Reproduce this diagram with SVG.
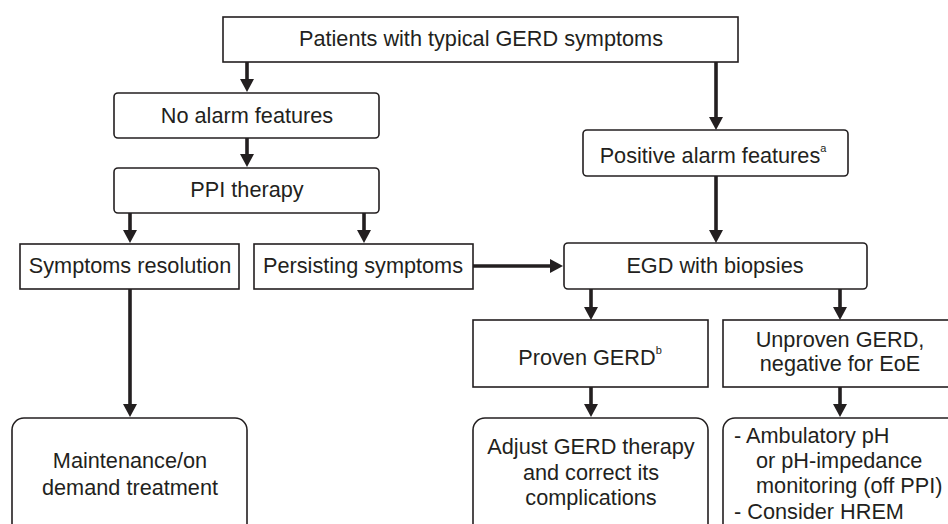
<svg xmlns="http://www.w3.org/2000/svg" width="948" height="524" viewBox="0 0 948 524">
<defs>
<style>
.box{fill:#fff;stroke:#231f20;stroke-width:1.6}
.t{font-family:"Liberation Sans",Arial,sans-serif;font-size:21.7px;fill:#231f20;text-anchor:middle}
.l{text-anchor:start}
.sup{font-size:11px}
.c{stroke:#231f20;stroke-width:3.6;fill:none;marker-end:url(#ah)}
</style>
<marker id="ah" viewBox="0 0 13 14" refX="5" refY="7" markerWidth="13" markerHeight="14" markerUnits="userSpaceOnUse" orient="auto">
<path d="M0,0 L13,7 L0,14 z" fill="#231f20"/>
</marker>
</defs>
<rect width="948" height="524" fill="#fff"/>
<g id="connectors">
<line class="c" x1="247" y1="62" x2="247" y2="84"/>
<line class="c" x1="247" y1="138" x2="247" y2="159"/>
<line class="c" x1="130" y1="213" x2="130" y2="235"/>
<line class="c" x1="364" y1="213" x2="364" y2="235"/>
<line class="c" x1="130" y1="289" x2="130" y2="409"/>
<line class="c" x1="473" y1="266" x2="555" y2="266"/>
<line class="c" x1="716" y1="62" x2="716" y2="122"/>
<line class="c" x1="716" y1="176" x2="716" y2="235"/>
<line class="c" x1="591" y1="289" x2="591" y2="312"/>
<line class="c" x1="840" y1="289" x2="840" y2="312"/>
<line class="c" x1="591" y1="387" x2="591" y2="409"/>
<line class="c" x1="840" y1="387" x2="840" y2="409"/>
</g>
<g id="top">
<rect class="box" x="223" y="17" width="515" height="45"/>
<text class="t" x="481" y="46">Patients with typical GERD symptoms</text>
</g>
<g id="noalarm">
<rect class="box" x="114" y="93" width="265" height="45" rx="4"/>
<text class="t" x="247" y="123">No alarm features</text>
</g>
<g id="ppi">
<rect class="box" x="114" y="168" width="265" height="45" rx="4"/>
<text class="t" x="247" y="197">PPI therapy</text>
</g>
<g id="resolution">
<rect class="box" x="20" y="244" width="219" height="45"/>
<text class="t" x="130" y="273">Symptoms resolution</text>
</g>
<g id="persisting">
<rect class="box" x="254" y="244" width="219" height="45"/>
<text class="t" x="363" y="273">Persisting symptoms</text>
</g>
<g id="positive">
<rect class="box" x="583" y="130" width="265" height="46" rx="4"/>
<text class="t" x="713" y="163">Positive alarm features<tspan class="sup" dy="-11">a</tspan></text>
</g>
<g id="egd">
<rect class="box" x="564" y="243" width="303" height="46" rx="4"/>
<text class="t" x="715" y="273">EGD with biopsies</text>
</g>
<g id="proven">
<rect class="box" x="473" y="320" width="235" height="67"/>
<text class="t" x="590" y="365">Proven GERD<tspan class="sup" dy="-11">b</tspan></text>
</g>
<g id="unproven">
<rect class="box" x="723" y="320" width="235" height="67"/>
<text class="t" x="840" y="347">Unproven GERD,</text>
<text class="t" x="840" y="371">negative for EoE</text>
</g>
<g id="maintenance">
<rect class="box" x="12" y="418" width="235" height="130" rx="12"/>
<text class="t" x="130" y="468">Maintenance/on</text>
<text class="t" x="130" y="495">demand treatment</text>
</g>
<g id="adjust">
<rect class="box" x="473" y="418" width="235" height="130" rx="12"/>
<text class="t" x="591" y="454">Adjust GERD therapy</text>
<text class="t" x="591" y="480">and correct its</text>
<text class="t" x="591" y="505">complications</text>
</g>
<g id="ambulatory">
<rect class="box" x="723" y="418" width="240" height="130" rx="12"/>
<text class="t l" x="734" y="443">- Ambulatory pH</text>
<text class="t l" x="756" y="468">or pH-impedance</text>
<text class="t l" x="756" y="493">monitoring (off PPI)</text>
<text class="t l" x="734" y="519">- Consider HREM</text>
</g>
</svg>
